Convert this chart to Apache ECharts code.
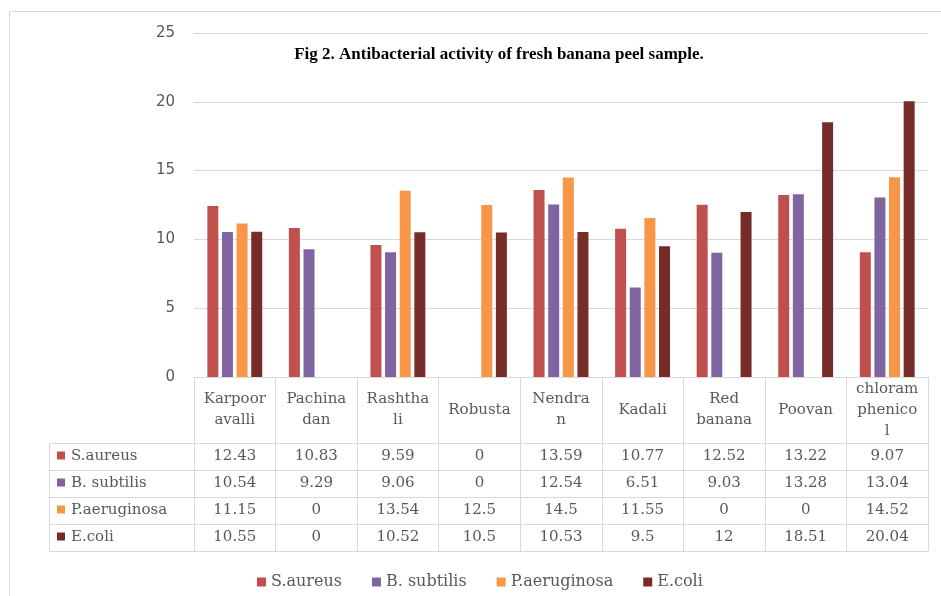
<!DOCTYPE html>
<html>
<head>
<meta charset="utf-8">
<script src="https://cdn.jsdelivr.net/npm/echarts@6/dist/echarts.min.js"></script>
<style>
html,body{margin:0;padding:0;background:#fff;}
#chart{width:941px;height:596px;}
</style>
</head>
<body>
<div id="chart"></div>
<script>
// ---- data ----
const titleText = 'Fig 2. Antibacterial activity of fresh banana peel sample.';
const categories = ['Karpoor\navalli', 'Pachina\ndan', 'Rashtha\nli', 'Robusta', 'Nendra\nn', 'Kadali', 'Red\nbanana', 'Poovan', 'chloram\nphenico\nl'];
const seriesNames = ['S.aureus', 'B. subtilis', 'P.aeruginosa', 'E.coli'];
const sAureus = [12.43, 10.83, 9.59, 0, 13.59, 10.77, 12.52, 13.22, 9.07];
const bSubtilis = [10.54, 9.29, 9.06, 0, 12.54, 6.51, 9.03, 13.28, 13.04];
const pAeruginosa = [11.15, 0, 13.54, 12.5, 14.5, 11.55, 0, 0, 14.52];
const eColi = [10.55, 0, 10.52, 10.5, 10.53, 9.5, 12, 18.51, 20.04];
const yTicks = [0, 5, 10, 15, 20, 25];

const seriesData = [sAureus, bSubtilis, pAeruginosa, eColi];
const colors = ['#C0504D', '#8064A2', '#F79646', '#772C2A'];

const gridLine = '#d9d9d9';
const textColor = '#595959';
const serif = '"DejaVu Serif", serif';

const chart = echarts.init(document.getElementById('chart'));

const headerH = 66, rowH = 27;

const option = {
  animation: false,
  backgroundColor: '#fff',
  color: colors,
  title: {
    text: titleText,
    left: 494, top: 41, textAlign: 'center',
    textStyle: { fontFamily: '"Liberation Serif", serif', fontWeight: 'bold', fontSize: 17, color: '#000' }
  },
  legend: {
    data: seriesNames,
    left: 252, top: 569,
    icon: 'rect', itemWidth: 9, itemHeight: 9, itemGap: 30,
    textStyle: { fontFamily: serif, fontSize: 16, color: textColor }
  },
  grid: { left: 194, right: 13, top: 33, bottom: 219, containLabel: false },
  xAxis: {
    type: 'category',
    data: categories,
    axisLine: { lineStyle: { color: gridLine, width: 1 } },
    axisTick: { show: true, length: headerH + rowH * 4, interval: 0, lineStyle: { color: gridLine } },
    axisLabel: {
      interval: 0, margin: 33, verticalAlign: 'middle', lineHeight: 21,
      fontFamily: serif, fontSize: 15, color: textColor
    }
  },
  yAxis: {
    type: 'value', min: yTicks[0], max: yTicks[yTicks.length - 1], interval: 5,
    axisLine: { show: false }, axisTick: { show: false },
    splitLine: { lineStyle: { color: gridLine } },
    axisLabel: { margin: 19, fontFamily: '"DejaVu Sans", sans-serif', fontSize: 15, color: textColor }
  },
  series: seriesNames.map((n, i) => ({
    name: n, type: 'bar', data: seriesData[i], barWidth: 11, barGap: '33%'
  })),
  graphic: []
};
chart.setOption(option);

// ---- data table below the axis ----
function buildTable() {
  const x0 = chart.convertToPixel({ xAxisIndex: 0 }, 0);
  const x1 = chart.convertToPixel({ xAxisIndex: 0 }, 1);
  const band = x1 - x0;
  const rightEdge = chart.convertToPixel({ xAxisIndex: 0 }, categories.length - 1) + band / 2;
  const axisY = chart.convertToPixel({ yAxisIndex: 0 }, 0);
  const tableTop = axisY + headerH;
  const labelLeft = 49;
  const els = [];
  for (let r = 0; r <= seriesNames.length; r++) {
    const y = Math.round(tableTop + r * rowH) + 0.5;
    els.push({ type: 'line', shape: { x1: labelLeft, y1: y, x2: rightEdge, y2: y }, style: { stroke: gridLine, lineWidth: 1 }, silent: true });
  }
  els.push({ type: 'line', shape: { x1: labelLeft + 0.5, y1: tableTop, x2: labelLeft + 0.5, y2: tableTop + rowH * seriesNames.length }, style: { stroke: gridLine, lineWidth: 1 }, silent: true });
  seriesNames.forEach((name, r) => {
    const cy = tableTop + r * rowH + rowH / 2;
    els.push({ type: 'rect', shape: { x: labelLeft + 8, y: cy - 5, width: 8, height: 8 }, style: { fill: colors[r] }, silent: true });
    els.push({ type: 'text', x: labelLeft + 22, y: cy, style: { text: name, fill: textColor, font: '15px ' + serif, textAlign: 'left', textVerticalAlign: 'middle' }, silent: true });
    seriesData[r].forEach((v, c) => {
      const cx = chart.convertToPixel({ xAxisIndex: 0 }, c);
      els.push({ type: 'text', x: cx, y: cy, style: { text: String(v), fill: textColor, font: '15px ' + serif, textAlign: 'center', textVerticalAlign: 'middle' }, silent: true });
    });
  });
  els.push({ type: 'rect', shape: { x: 9.5, y: 11.5, width: 1000, height: 1000 }, style: { fill: null, stroke: gridLine, lineWidth: 1 }, silent: true, z: -1 });
  chart.setOption({ graphic: els });
}
buildTable();
</script>
</body>
</html>
